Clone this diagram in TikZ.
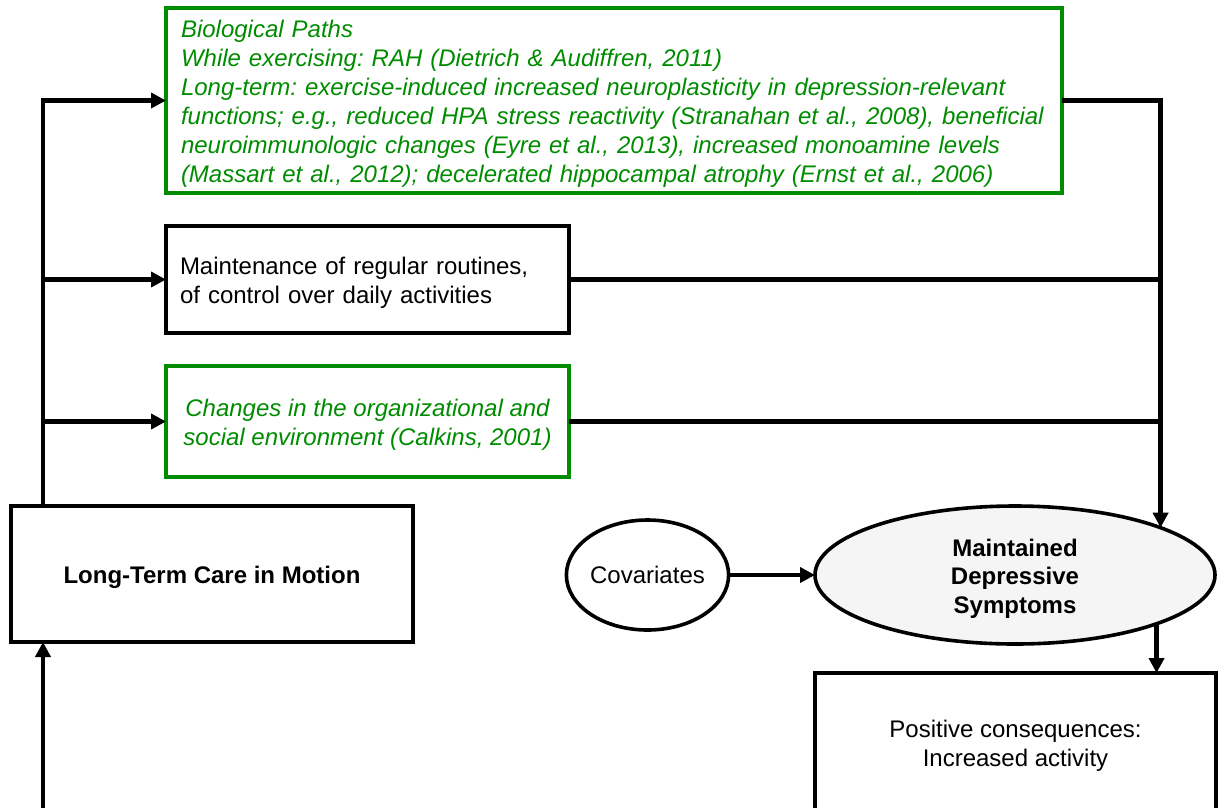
\documentclass[tikz,border=0pt]{standalone}
\usepackage{fontspec}
\setmainfont{Liberation Sans}
\usetikzlibrary{arrows.meta,calc,shapes.geometric}
\definecolor{pathgreen}{RGB}{0,140,0}
% invisible strut that lowers a text block a little inside its box
\newcommand\padtop{\rule{0pt}{24pt}}
\frenchspacing
\begin{document}
\begin{tikzpicture}[x=1pt,y=-1pt,
  every node/.style={inner sep=0pt, outer sep=0pt},
  box/.style={draw=black, line width=3.6pt, rectangle},
  gbox/.style={draw=pathgreen, line width=3.6pt, rectangle, text=pathgreen},
  link/.style={line width=4.5pt},
  arrow/.style={line width=4.5pt, -{Triangle[length=15pt,width=15pt]}},
  body/.style={font=\fontsize{24}{29}\selectfont},
  slanted/.style={font=\itshape\fontsize{24}{29}\selectfont},
  strong/.style={font=\bfseries\fontsize{24}{28.5}\selectfont}]
\clip (0,0) rectangle (1218,807);
\useasboundingbox (0,0) rectangle (1218,807);

% mediating paths
\node[gbox, slanted, minimum width=896, minimum height=185, text width=866, align=left]
  (bio) at (614,100.5)
  {\padtop Biological Paths\\
   While exercising: RAH (Dietrich \& Audiffren, 2011)\\
   Long-term: exercise-induced increased neuroplasticity in depression-relevant\\
   functions; e.g., reduced HPA stress reactivity (Stranahan et al., 2008), beneficial\\
   neuroimmunologic changes (Eyre et al., 2013), increased monoamine levels\\
   (Massart et al., 2012); decelerated hippocampal atrophy (Ernst et al., 2006)};
\node[box, body, minimum width=403, minimum height=107, text width=375, align=left]
  (routine) at (367.5,279.5)
  {\padtop Maintenance of regular routines,\\of control over daily activities};
\node[gbox, slanted, minimum width=403, minimum height=111, align=center]
  (social) at (367.5,421.5)
  {\padtop Changes in the organizational and\\social environment (Calkins, 2001)};

% intervention, covariates and outcome
\node[box, strong, minimum width=402, minimum height=136] (ltc) at (212,574)
  {\padtop Long-Term Care in Motion};
\node[ellipse, draw, line width=3.6pt, body, minimum width=161, minimum height=110]
  (cov) at (647.5,575) {Covariates};
\node[ellipse, draw, line width=3.6pt, fill=black!4, strong, align=center,
      minimum width=400, minimum height=138] (mds) at (1015,575)
  {\padtop Maintained\\Depressive\\Symptoms};
\node[box, body, align=center, minimum width=401, minimum height=139]
  (pos) at (1015.5,742.5) {\padtop Positive consequences:\\Increased activity};

% left feed from the intervention to the paths
\coordinate (spine) at ($(ltc.north west)+(32,0)$);
\draw[arrow] (spine) |- (bio.west);
\draw[arrow] (spine |- routine.west) -- (routine.west);
\draw[arrow] (spine |- social.west) -- (social.west);
\coordinate (feed) at (43,815);
\draw[arrow] (feed) -- (feed |- ltc.south);

% right collector into the outcome
\draw[arrow] (bio.east) -| (mds.18.6);
\draw[link] (routine.east) -- (routine.east -| mds.18.6);
\draw[link] (social.east) -- (social.east -| mds.18.6);
\draw[arrow] (cov.east) -- (cov.east -| mds.west);
\draw[arrow] (mds.-19.3) -- (mds.-19.3 |- pos.north);
\end{tikzpicture}
\end{document}
